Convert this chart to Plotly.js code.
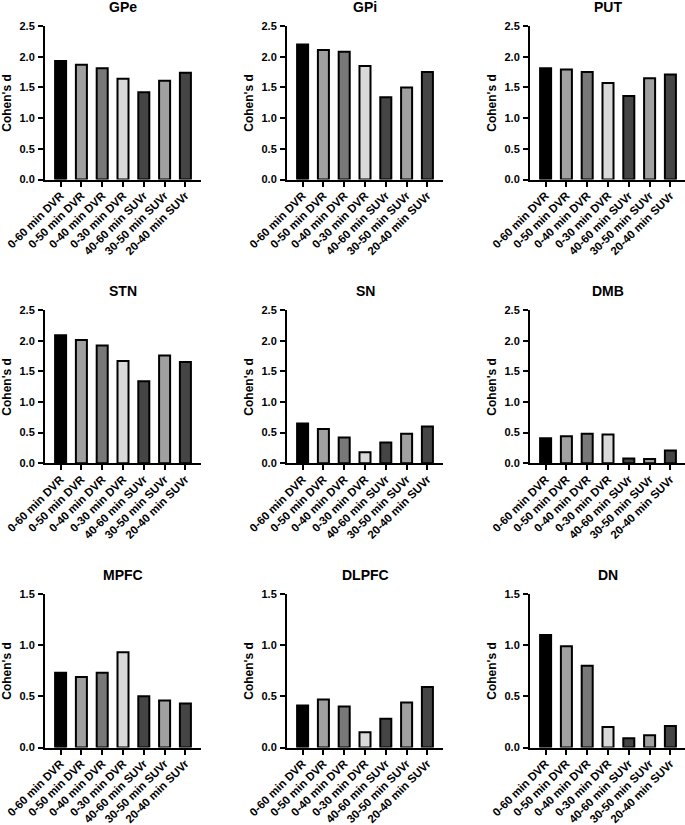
<!DOCTYPE html>
<html>
<head>
<meta charset="utf-8">
<script src="https://cdn.plot.ly/plotly-3.0.1.min.js"></script>
<style>html,body{margin:0;padding:0;background:#fff;}#chart{width:685px;height:825px;}</style>
</head>
<body>
<div id="chart"></div>
<script>
// ---- data ----
const categories = ['0-60 min DVR','0-50 min DVR','0-40 min DVR','0-30 min DVR','40-60 min SUVr','30-50 min SUVr','20-40 min SUVr'];
const regions = ['GPe','GPi','PUT','STN','SN','DMB','MPFC','DLPFC','DN'];
const gpe   = [1.93, 1.87, 1.81, 1.64, 1.42, 1.61, 1.74];
const gpi   = [2.20, 2.11, 2.08, 1.85, 1.34, 1.50, 1.75];
const put   = [1.81, 1.79, 1.75, 1.57, 1.36, 1.65, 1.71];
const stn   = [2.09, 2.01, 1.92, 1.67, 1.34, 1.76, 1.65];
const sn    = [0.65, 0.56, 0.42, 0.18, 0.34, 0.48, 0.60];
const dmb   = [0.41, 0.44, 0.48, 0.47, 0.08, 0.07, 0.21];
const mpfc  = [0.73, 0.69, 0.73, 0.93, 0.50, 0.46, 0.43];
const dlpfc = [0.41, 0.47, 0.40, 0.15, 0.28, 0.44, 0.59];
const dn    = [1.10, 0.99, 0.80, 0.20, 0.09, 0.12, 0.21];
const yMax  = [2.5, 2.5, 2.5, 2.5, 2.5, 2.5, 1.5, 1.5, 1.5];
const yLabel = "Cohen's d";

const series = [gpe, gpi, put, stn, sn, dmb, mpfc, dlpfc, dn];

// ---- style ----
const barColors = ['#000000','#a0a0a0','#787878','#d9d9d9','#454545','#a0a0a0','#454545'];
const W = 685, H = 825;
const colX = [[45, 201], [287, 443], [530, 686]];
const rowY = [[26, 179.5], [310, 463.3], [594, 747.5]];
const pxPerCat = 20.8;
const FONT = 'Arial, "Liberation Sans", sans-serif';

const data = [];
const layout = {
  width: W, height: H,
  margin: {l: 0, r: 0, t: 0, b: 0},
  paper_bgcolor: '#fff', plot_bgcolor: '#fff',
  showlegend: false,
  bargap: 0,
  annotations: []
};

series.forEach((vals, i) => {
  const r = Math.floor(i / 3), c = i % 3;
  const n = i + 1;
  const xa = 'x' + (n === 1 ? '' : n), ya = 'y' + (n === 1 ? '' : n);
  const xKey = 'xaxis' + (n === 1 ? '' : n), yKey = 'yaxis' + (n === 1 ? '' : n);
  const x0 = colX[c][0], x1 = Math.min(colX[c][1], W);
  const wpx = x1 - x0;
  data.push({
    type: 'bar', x: categories, y: vals, xaxis: xa, yaxis: ya,
    width: 0.53,
    marker: {color: barColors, line: {color: '#000', width: 2}},
    hoverinfo: 'x+y'
  });
  layout[xKey] = {
    domain: [x0 / W, x1 / W], anchor: ya,
    type: 'category', range: [-0.75, -0.75 + wpx / pxPerCat],
    showline: true, linecolor: '#000', linewidth: 2,
    ticks: 'outside', ticklen: 5, tickwidth: 2, tickcolor: '#000',
    tickangle: -45, showgrid: false, zeroline: false, ticklabelstandoff: -2,
    tickfont: {family: FONT, size: 11.5, color: '#000', weight: 'bold'}
  };
  layout[yKey] = {
    domain: [1 - rowY[r][1] / H, 1 - rowY[r][0] / H], anchor: xa,
    range: [0, yMax[i]], dtick: 0.5, tick0: 0, tickformat: '.1f',
    showline: true, linecolor: '#000', linewidth: 2,
    ticks: 'outside', ticklen: 5, tickwidth: 2, tickcolor: '#000',
    showgrid: false, zeroline: false, ticklabelstandoff: 1,
    tickfont: {family: FONT, size: 11, color: '#000', weight: 'bold'}
  };
  // panel title
  layout.annotations.push({
    text: regions[i], xref: 'paper', yref: 'paper',
    x: (x0 + colX[c][1]) / 2 / W, y: 1 - (rowY[r][0] - 19) / H,
    xanchor: 'center', yanchor: 'middle', showarrow: false,
    font: {family: FONT, size: 14, color: '#000', weight: 'bold'}
  });
  // y axis title
  layout.annotations.push({
    text: yLabel, xref: 'paper', yref: 'paper',
    x: (x0 - 38) / W, y: 1 - (rowY[r][0] + rowY[r][1]) / 2 / H,
    xanchor: 'center', yanchor: 'middle', showarrow: false, textangle: -90,
    borderpad: 0,
    font: {family: FONT, size: 12, color: '#000', weight: 'bold'}
  });
});

Plotly.newPlot('chart', data, layout, {displayModeBar: false, staticPlot: true});
</script>
</body>
</html>
